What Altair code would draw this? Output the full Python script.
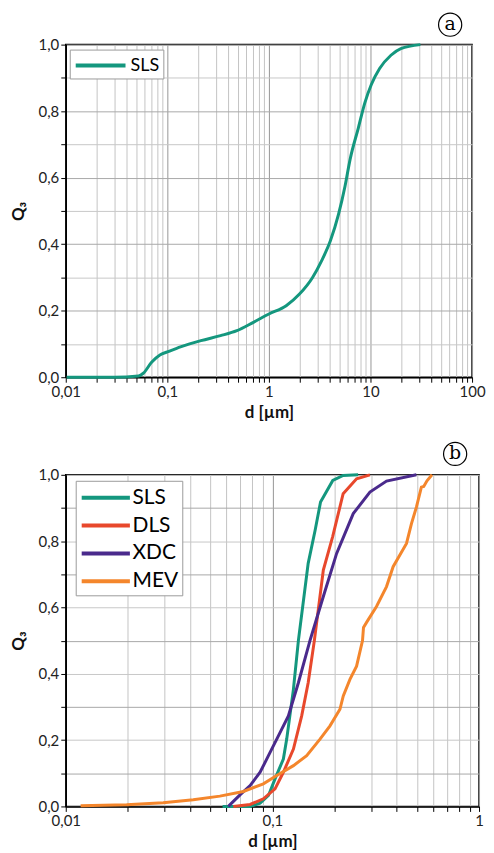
import altair as alt
import pandas as pd

# ---------------- data : panel (a) ----------------
a_d = [0.0102, 0.03, 0.052, 0.058, 0.070, 0.0845, 0.1, 0.137, 0.214, 0.334, 0.484,
       0.703, 1.0, 1.48, 2.0, 2.69, 3.3, 4.03, 4.85, 5.62, 6.3, 7.6, 8.8, 10.2,
       12.3, 15.9, 19.9, 31.0]
a_q = [0.0, 0.0, 0.004, 0.012, 0.045, 0.067, 0.076, 0.092, 0.11, 0.125, 0.14,
       0.165, 0.19, 0.215, 0.25, 0.30, 0.35, 0.41, 0.49, 0.575, 0.655, 0.75, 0.825,
       0.88, 0.928, 0.968, 0.988, 1.0]

# ---------------- data : panel (b) ----------------
sls_d = [0.0574, 0.078, 0.081, 0.0872, 0.0957, 0.103, 0.113, 0.1173, 0.1264, 0.1336,
         0.149, 0.161, 0.171, 0.196, 0.220, 0.260]
sls_q = [0.0, 0.0, 0.003, 0.01, 0.033, 0.083, 0.143, 0.203, 0.353, 0.50,
         0.733, 0.833, 0.918, 0.983, 0.998, 1.0]

dls_d = [0.0647, 0.078, 0.0904, 0.103, 0.113, 0.1264, 0.1386, 0.149, 0.1596, 0.1764,
         0.1956, 0.220, 0.2555, 0.2965]
dls_q = [0.0, 0.006, 0.023, 0.053, 0.103, 0.173, 0.273, 0.373, 0.50, 0.713,
         0.813, 0.943, 0.988, 1.0]

xdc_d = [0.0612, 0.0697, 0.078, 0.0872, 0.0957, 0.105, 0.1195, 0.1336, 0.152, 0.1764,
         0.2046, 0.2462, 0.2965, 0.3567, 0.4977]
xdc_q = [0.0, 0.035, 0.063, 0.103, 0.153, 0.203, 0.273, 0.373, 0.50, 0.633,
         0.763, 0.883, 0.948, 0.981, 1.0]

mev_d = [0.0118, 0.0197, 0.0296, 0.0414, 0.0557, 0.0724, 0.0904, 0.105, 0.1264, 0.1465,
         0.17, 0.19, 0.2123, 0.2203, 0.2373, 0.2555, 0.273, 0.276, 0.2856, 0.319,
         0.3567, 0.384, 0.4457, 0.471, 0.498, 0.526, 0.540, 0.56, 0.592]
mev_q = [0.002, 0.005, 0.011, 0.02, 0.031, 0.045, 0.068, 0.093, 0.123, 0.153,
         0.203, 0.243, 0.293, 0.333, 0.383, 0.423, 0.50, 0.54, 0.555, 0.603,
         0.663, 0.723, 0.793, 0.853, 0.903, 0.963, 0.965, 0.982, 1.0]

series_b = ["SLS", "DLS", "XDC", "MEV"]
colors_b = ["#14977e", "#e8482c", "#4a2a8c", "#f4862c"]

# axis tick values / labels
xa_vals = [round(m * 10 ** e, 4) for e in range(-2, 2) for m in range(1, 10)] + [100]
xb_vals = [round(m * 10 ** e, 4) for e in range(-2, 0) for m in range(1, 10)] + [1]
y_vals = [0.0, 0.1, 0.2, 0.3, 0.4, 0.5, 0.6, 0.7, 0.8, 0.9, 1.0]
decades = "[0.01,0.1,1,10,100]"

df_a = pd.DataFrame({"d": a_d, "q": a_q, "s": "SLS"})
df_b = pd.concat([
    pd.DataFrame({"d": sls_d, "q": sls_q, "s": "SLS"}),
    pd.DataFrame({"d": dls_d, "q": dls_q, "s": "DLS"}),
    pd.DataFrame({"d": xdc_d, "q": xdc_q, "s": "XDC"}),
    pd.DataFrame({"d": mev_d, "q": mev_q, "s": "MEV"}),
], ignore_index=True)

FONT = "Lato"
DARK = "#969696"
LIGHT = "#c4c4c4"

def x_axis(vals):
    return alt.Axis(
        values=vals,
        labelExpr=f"indexof({decades}, datum.value) >= 0 ? replace(toString(datum.value), '.', ',') : ''",
        gridColor={"condition": {"test": f"indexof({decades}, datum.value) >= 0", "value": DARK}, "value": LIGHT},
        title="d [µm]",
        labelFlush=False,
        labelOverlap=False,
    )

def y_axis(dark_even):
    test = "round(datum.value*10) % 2 == 0" if dark_even else "round(datum.value*10) % 2 == 1"
    return alt.Axis(
        values=y_vals,
        labelExpr="round(datum.value*10) % 2 == 0 ? replace(format(datum.value, '.1f'), '.', ',') : ''",
        gridColor={"condition": {"test": test, "value": "#a8a8a8"}, "value": "#c8c8c8"},
        title="Q₃",
        labelOverlap=False,
    )

def badge(letter, x, y):
    ann = pd.DataFrame({"t": [letter]})
    circ = alt.Chart(ann).mark_point(shape="circle", size=540, filled=False,
                                     stroke="black", strokeWidth=1.2, opacity=1).encode(
        x=alt.value(x), y=alt.value(y))
    txt = alt.Chart(ann).mark_text(font="DejaVu Serif", fontSize=19, align="center",
                                   baseline="middle", color="black").encode(
        x=alt.value(x), y=alt.value(y - 1), text="t:N")
    return circ + txt

WA = 408
WB = 415
line_a = alt.Chart(df_a).mark_line(strokeWidth=3, interpolate="monotone").encode(
    x=alt.X("d:Q", scale=alt.Scale(type="log", domain=[0.01, 100], nice=False), axis=x_axis(xa_vals)),
    y=alt.Y("q:Q", scale=alt.Scale(domain=[0, 1], nice=False), axis=y_axis(True)),
    color=alt.Color("s:N", scale=alt.Scale(domain=["SLS"], range=["#14977e"]),
                    legend=alt.Legend(title=None, orient="none", legendX=4, legendY=5,
                                      symbolType="M-1,0H4", symbolSize=400, symbolStrokeWidth=4,
                                      labelFontSize=18, labelFont=FONT, labelOffset=33,
                                      strokeColor="#9a9a9a", padding=4, fillColor="white")),
)
chart_a = alt.layer(line_a, badge("a", WA - 22, -20)).properties(width=WA, height=334)

line_b = alt.Chart(df_b).mark_line(strokeWidth=3).encode(
    x=alt.X("d:Q", scale=alt.Scale(type="log", domain=[0.01, 1], nice=False), axis=x_axis(xb_vals)),
    y=alt.Y("q:Q", scale=alt.Scale(domain=[0, 1], nice=False), axis=y_axis(False)),
    color=alt.Color("s:N", scale=alt.Scale(domain=series_b, range=colors_b),
                    legend=alt.Legend(title=None, orient="none", legendX=10, legendY=6,
                                      symbolType="M-1,0H3.4", symbolSize=484, symbolStrokeWidth=4,
                                      labelFontSize=21, labelFont=FONT, labelOffset=27,
                                      rowPadding=5, strokeColor="#9a9a9a", padding=4,
                                      fillColor="white")),
    order=alt.Order("s:N"),
    detail="s:N",
)
chart_b = alt.layer(line_b, badge("b", WB - 24, -21)).properties(width=WB, height=333)

chart = alt.vconcat(chart_a, chart_b, spacing=18).properties(padding=0).resolve_scale(
    color="independent"
).configure_view(
    stroke="black", strokeWidth=1.5
).configure_axis(
    domainColor="black", domainWidth=1.5, tickColor="black", tickSize=5, tickWidth=1,
    labelFont=FONT, labelFontSize=15, labelColor="#222222", labelPadding=2,
    titleFont=FONT, titleFontSize=17, titleFontWeight="bold", titleColor="#111111",
    gridWidth=1,
).configure_axisY(titlePadding=11).configure_axisX(titlePadding=5)

chart.save("out.html", embed_options={"renderer": "svg", "actions": False})
